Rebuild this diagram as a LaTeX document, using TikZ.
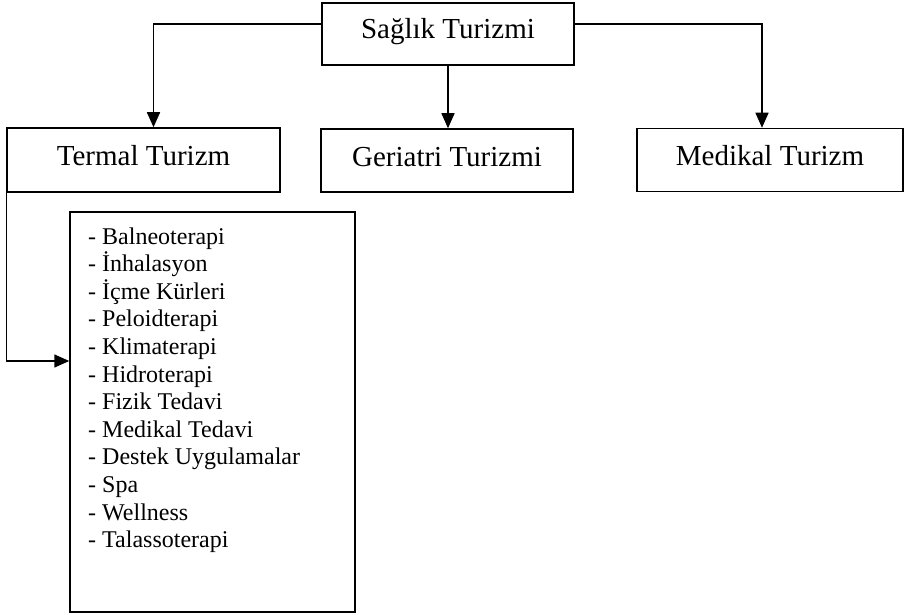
\documentclass[tikz,border=0pt]{standalone}
\usepackage{fontspec}
\setmainfont{Liberation Serif}
\usetikzlibrary{arrows.meta}
\begin{document}
\begin{tikzpicture}[x=1pt,y=-1pt,
  box/.style={draw,line width=1.5pt,inner sep=0pt,font=\fontsize{29}{33}\selectfont,text height=20pt,text depth=8pt},
  item/.style={anchor=base west,inner sep=0pt,font=\fontsize{24}{27.6}\selectfont},
  arr/.style={line width=1.5pt,-{Triangle[length=15pt,width=13pt]}}]
\useasboundingbox (0,0) rectangle (905,615);
\node[box,minimum width=252pt,minimum height=62pt,text height=20pt,text depth=10pt] (top) at (448,34) {Sağlık Turizmi};
\node[box,minimum width=273pt,minimum height=64pt] (termal) at (143.5,160) {Termal Turizm};
\node[box,minimum width=252pt,minimum height=63pt] (geriatri) at (447,160.5) {Geriatri Turizmi};
\node[box,minimum width=266pt,minimum height=63pt] (medikal) at (770,160) {Medikal Turizm};
\node[draw,line width=1.5pt,inner sep=0pt,minimum width=285pt,minimum height=400pt] (list) at (212.5,412) {};
\foreach \t [count=\i from 0] in {Balneoterapi,İnhalasyon,İçme Kürleri,Peloidterapi,Klimaterapi,Hidroterapi,Fizik Tedavi,Medikal Tedavi,Destek Uygulamalar,Spa,Wellness,Talassoterapi}
  \node[item] (it\i) at (88,244+27.6*\i) {- \t};
\draw[arr] ([yshift=10pt]top.west) -| ([xshift=10pt]termal.north);
\draw[arr] (top.south) -- (top.south |- geriatri.north);
\draw[arr] ([yshift=10pt]top.east) -| ([xshift=-8pt]medikal.north);
\draw[arr] (termal.south west) |- ([yshift=51pt]list.west);
\end{tikzpicture}
\end{document}
